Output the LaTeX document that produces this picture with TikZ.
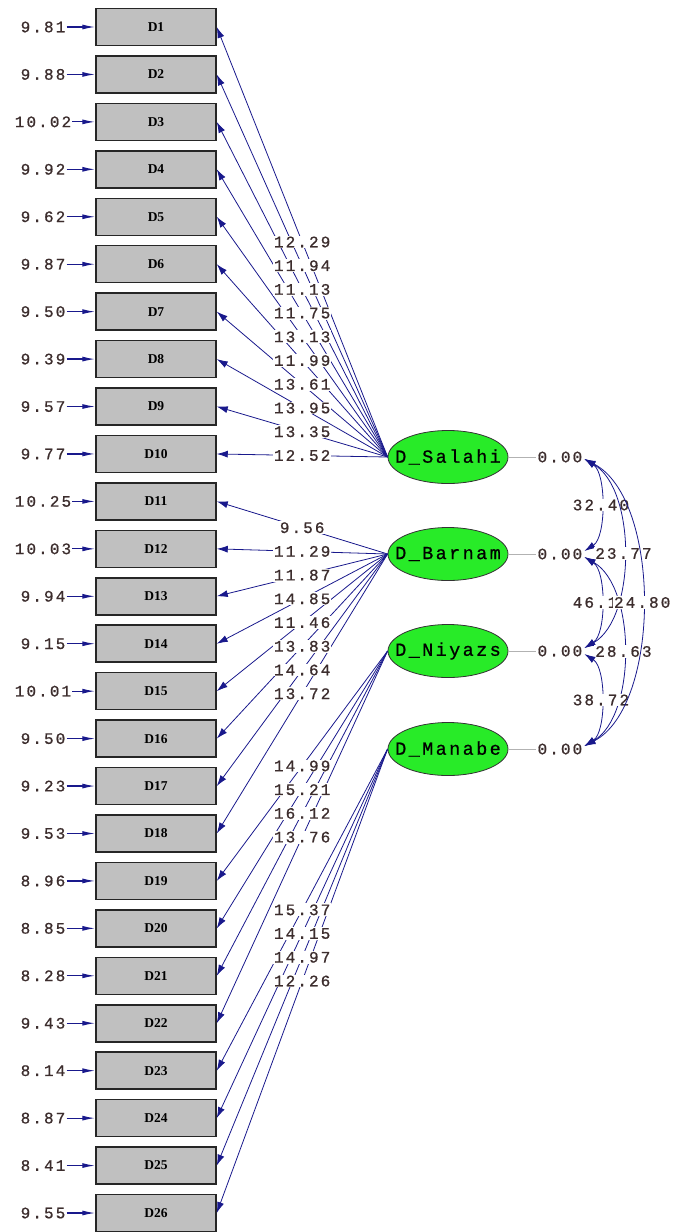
\documentclass[tikz,border=0pt]{standalone}
\usepackage{fontspec}
\newfontfamily\lisfont[LetterSpace=13,FakeBold=0.8]{Liberation Mono}
\newfontfamily\boxfont{Liberation Serif}
\usetikzlibrary{arrows.meta,%
		calc,%
		positioning,%
		shapes.geometric}
\definecolor{navy}{RGB}{25,25,140}
\definecolor{numcol}{RGB}{60,45,45}
\definecolor{silver}{RGB}{192,192,192}
\definecolor{lgreen}{RGB}{40,235,40}

\begin{document}
\begin{tikzpicture}[x=1pt,y=-1pt,
	obs/.style={draw=black!85,line width=1.5pt,fill=silver,minimum width=120pt,minimum height=37pt,inner sep=0pt,font=\boxfont\bfseries\fontsize{13.5}{13.5}\selectfont},
	lat/.style={ellipse,draw=black!80,line width=0.8pt,fill=lgreen,minimum width=120pt,minimum height=53pt,inner sep=0pt,font=\lisfont\fontsize{18.5}{18.5}\selectfont},
	num/.style={font=\lisfont\fontsize{16}{16}\selectfont,text=numcol,inner sep=1pt},
	numw/.style={num,fill=white},
	load/.style={navy,line width=0.8pt,-{Latex[length=11pt,width=7pt]}},
	err/.style={navy,line width=1.2pt,-{Latex[length=13pt,width=5pt]}},
	cov/.style={navy,line width=0.8pt,{Latex[length=11pt,width=7pt]}-{Latex[length=11pt,width=7pt]}}]
\useasboundingbox (0,0) rectangle (679,1232);
%indicatori ed errori
\foreach \v [count=\i] in {9.81,9.88,10.02,9.92,9.62,9.87,9.50,9.39,9.57,9.77,10.25,10.03,9.94,9.15,10.01,9.50,9.23,9.53,8.96,8.85,8.28,9.43,8.14,8.87,8.41,9.55}{
	\node[obs] (d\i) at (156,{27+(\i-1)*47.44}) {D\i};
	\node[num] (e\i) at (43,{27+(\i-1)*47.44}) {\v};
	\draw[err] (e\i) -- (d\i);
}
%variabili latenti
\node[lat] (salahi) at (448,457) {\makebox[0pt]{D\_Salahi}};
\node[lat] (barnam) at (448,554) {\makebox[0pt]{D\_Barnam}};
\node[lat] (niyazs) at (448,651) {\makebox[0pt]{D\_Niyazs}};
\node[lat] (manabe) at (448,749) {\makebox[0pt]{D\_Manabe}};
\foreach \f/\s in {salahi/vs,barnam/vb,niyazs/vn,manabe/vm}{
	\node[num, right=28pt of \f] (\s) {0.00};
	\draw[gray!60] (\f) -- (\s);
	\coordinate (c\s) at ($(\s.east)+(1,0)$);
}
%saturazioni
\foreach \v/\j/\f in {12.29/1/salahi,11.94/2/salahi,11.13/3/salahi,11.75/4/salahi,13.13/5/salahi,11.99/6/salahi,13.61/7/salahi,13.95/8/salahi,13.35/9/salahi,12.52/10/salahi,%
	9.56/11/barnam,11.29/12/barnam,11.87/13/barnam,14.85/14/barnam,11.46/15/barnam,13.83/16/barnam,14.64/17/barnam,13.72/18/barnam,%
	14.99/19/niyazs,15.21/20/niyazs,16.12/21/niyazs,13.76/22/niyazs,%
	15.37/23/manabe,14.15/24/manabe,14.97/25/manabe,12.26/26/manabe}
	\draw[load] (\f.west) -- (d\j.east);
\foreach \v/\j/\f in {12.29/1/salahi,11.94/2/salahi,11.13/3/salahi,11.75/4/salahi,13.13/5/salahi,11.99/6/salahi,13.61/7/salahi,13.95/8/salahi,13.35/9/salahi,12.52/10/salahi,%
	9.56/11/barnam,11.29/12/barnam,11.87/13/barnam,14.85/14/barnam,11.46/15/barnam,13.83/16/barnam,14.64/17/barnam,13.72/18/barnam,%
	14.99/19/niyazs,15.21/20/niyazs,16.12/21/niyazs,13.76/22/niyazs,%
	15.37/23/manabe,14.15/24/manabe,14.97/25/manabe,12.26/26/manabe}
	\path (\f.west) -- (d\j.east) node[numw,pos=0.5] {\v};
%covarianze
\draw[cov] ($(cvs)+(0,2)$) .. controls +(22,14) and +(22,-14) .. ($(cvb)+(0,-3)$) node[numw,pos=0.5] {32.40};
\draw[cov] ($(cvs)+(0,2)$) .. controls +(52,30) and +(52,-30) .. ($(cvn)+(0,-3)$) node[numw,pos=0.5] {23.77};
\draw[cov] ($(cvb)+(0,3)$) .. controls +(22,14) and +(22,-14) .. ($(cvn)+(0,-3)$) node[numw,pos=0.5] {46.12};
\draw[cov] ($(cvb)+(0,3)$) .. controls +(52,30) and +(52,-30) .. ($(cvm)+(0,-3)$) node[numw,pos=0.5] {28.63};
\draw[cov] ($(cvn)+(0,3)$) .. controls +(22,14) and +(22,-14) .. ($(cvm)+(0,-3)$) node[numw,pos=0.5] {38.72};
\draw[cov] ($(cvs)+(0,2)$) .. controls +(77,40) and +(77,-40) .. ($(cvm)+(0,-3)$) node[numw,pos=0.5] {24.80};
\end{tikzpicture}
\end{document}
